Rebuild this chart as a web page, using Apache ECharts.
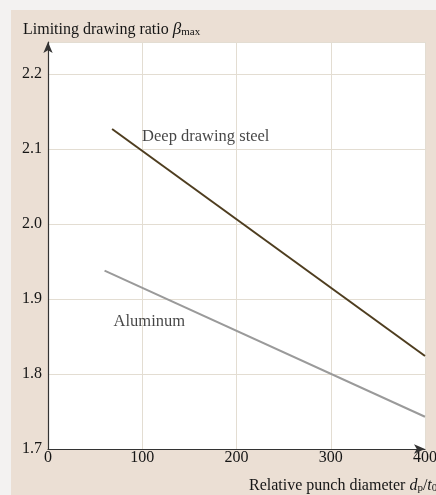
<!DOCTYPE html>
<html>
<head>
<meta charset="utf-8">
<script src="https://cdn.jsdelivr.net/npm/echarts@6/dist/echarts.min.js"></script>
<style>
  html, body { margin: 0; padding: 0; overflow: hidden; }
  body {
    width: 436px; height: 495px;
    background:
      linear-gradient(to right, #f3f2f1 0, #f3f2f1 11px, transparent 11px),
      linear-gradient(to bottom, #f3f2f1 0, #f3f2f1 10px, transparent 10px),
      #ebdfd4;
  }
  #chart { width: 436px; height: 495px; }
</style>
</head>
<body>
<div id="chart"></div>
<script>
// ---- data ----
const xTicks = [0, 100, 200, 300, 400];
const yTicks = [1.7, 1.8, 1.9, 2.0, 2.1, 2.2];
const steelX = [68, 400];
const steelY = [2.127, 1.824];
const aluX = [60, 400];
const aluY = [1.938, 1.743];
const seriesNames = ['Deep drawing steel', 'Aluminum'];

const FONT = "'Liberation Serif', 'Times New Roman', 'DejaVu Serif', serif";
const TXT = '#151515';

function pairs(xs, ys) { return xs.map((x, i) => [x, ys[i]]); }

const chart = echarts.init(document.getElementById('chart'), null, { renderer: 'canvas' });

chart.setOption({
  animation: false,
  backgroundColor: 'transparent',
  title: [
    {
      text: 'Limiting drawing ratio {b|β}{s|max}',
      left: 18, top: 16,
      textStyle: {
        fontFamily: FONT, fontSize: 16, fontWeight: 'normal', color: TXT,
        rich: {
          b: { fontFamily: FONT, fontSize: 17, fontStyle: 'italic', color: TXT },
          s: { fontFamily: FONT, fontSize: 11, color: TXT, verticalAlign: 'bottom' }
        }
      }
    },
    {
      text: 'Relative punch diameter {i|d}{s|p}/{i|t}{s|0}',
      left: 244, top: 473,
      textStyle: {
        fontFamily: FONT, fontSize: 16, fontWeight: 'normal', color: TXT,
        rich: {
          i: { fontFamily: FONT, fontSize: 16, fontStyle: 'italic', color: TXT },
          s: { fontFamily: FONT, fontSize: 11, color: TXT, verticalAlign: 'bottom' }
        }
      }
    }
  ],
  grid: {
    left: 48, right: 11, top: 42, bottom: 46,
    outerBoundsMode: 'none', containLabel: false,
    show: true, backgroundColor: '#ffffff', borderWidth: 0
  },
  xAxis: {
    type: 'value',
    min: xTicks[0], max: xTicks[xTicks.length - 1], interval: 100,
    axisLine: { show: true, symbol: ['none', 'arrow'], symbolSize: [7, 11],
      lineStyle: { color: '#333333', width: 1.2 } },
    axisTick: { show: false },
    axisLabel: { margin: 1, fontFamily: FONT, fontSize: 16, color: TXT },
    splitLine: { show: true, lineStyle: { color: '#e3ddd2', width: 1 } }
  },
  yAxis: {
    type: 'value',
    min: yTicks[0], max: 2.243, interval: 0.1,
    axisLine: { show: true, symbol: ['none', 'arrow'], symbolSize: [7, 11],
      lineStyle: { color: '#333333', width: 1.2 } },
    axisTick: { show: false },
    axisLabel: { margin: 6, fontFamily: FONT, fontSize: 16, color: TXT,
      showMaxLabel: false,
      formatter: v => v.toFixed(1) },
    splitLine: { show: true, lineStyle: { color: '#e3ddd2', width: 1 } }
  },
  series: [
    {
      name: seriesNames[0], type: 'line', data: pairs(steelX, steelY),
      symbol: 'none', lineStyle: { color: '#4e3d1f', width: 2 }
    },
    {
      name: seriesNames[1], type: 'line', data: pairs(aluX, aluY),
      symbol: 'none', lineStyle: { color: '#9a9a9a', width: 2 }
    },
    {
      name: seriesNames[0] + ' label', type: 'scatter',
      data: [pairs(steelX, steelY)[0]],
      symbolSize: 0, silent: true,
      label: { show: true, position: 'right', distance: 5, offset: [25, 8],
        formatter: seriesNames[0], fontFamily: FONT, fontSize: 16.5, color: TXT }
    },
    {
      name: seriesNames[1] + ' label', type: 'scatter',
      data: [pairs(aluX, aluY)[0]],
      symbolSize: 0, silent: true,
      label: { show: true, position: 'right', distance: 5, offset: [4, 51],
        formatter: seriesNames[1], fontFamily: FONT, fontSize: 16.5, color: TXT }
    }
  ]
});
</script>
</body>
</html>
